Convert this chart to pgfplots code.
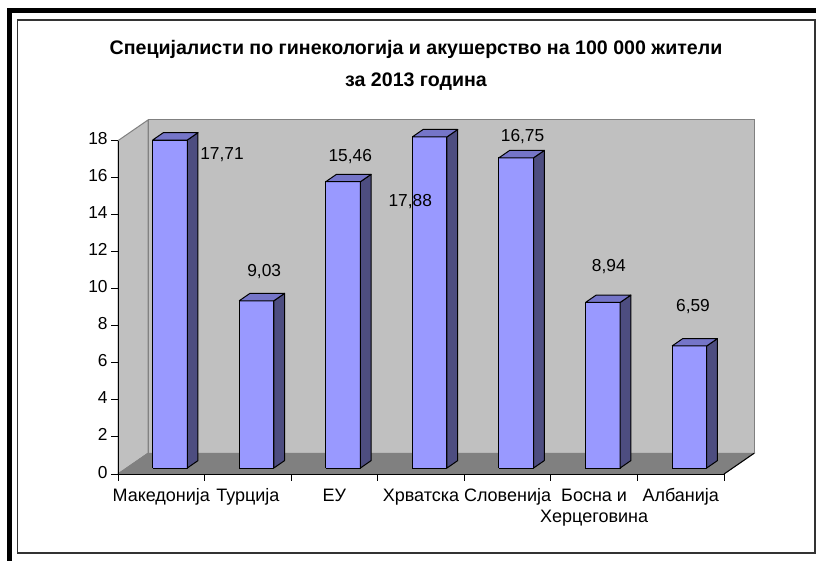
\documentclass[border=0pt]{standalone}
\usepackage{fontspec}
\setmainfont{Liberation Sans}
\usepackage{pgfplots}
\usepackage{pgfplotstable}
\pgfplotsset{compat=1.18}

\definecolor{wallc}{RGB}{192,192,192}
\definecolor{floorc}{RGB}{128,128,128}
\definecolor{edgec}{RGB}{128,128,128}
\definecolor{cfront}{RGB}{153,153,255}
\definecolor{ctop}{RGB}{117,117,200}
\definecolor{cside}{RGB}{77,77,128}

% idx, value, label position (axis units)
\pgfplotstableread{
idx value lx ly
0 17.71 0.701 17.27
1 9.03 1.189 10.95
2 15.46 2.183 17.12
3 17.88 2.876 14.73
4 16.75 4.173 18.24
5 8.94 5.169 11.18
6 6.59 6.142 9.06
}\datatable

\pgfplotsset{
  barfront/.style={fill=cfront, draw=black, line width=0.75pt, line join=round, mark=none},
  barside/.style={fill=cside, draw=black, line width=0.75pt, line join=round, mark=none},
  bartop/.style={fill=ctop, draw=black, line width=0.75pt, line join=round, mark=none},
}

\begin{document}
\begin{tikzpicture}[x=0.75pt,y=0.75pt]
\useasboundingbox (0,0) rectangle (816,560);
\clip (0,0) rectangle (816,560);
\fill[white] (0,0) rectangle (816,560);
\draw[black, line width=3.75pt] (9.5,549) rectangle (840,-30);
\draw[black!80, line width=1pt] (17.5,540) rectangle (815,7);

\node[font=\bfseries\fontsize{14.7}{17}\selectfont, anchor=base, inner sep=0pt] at (416,505) {Специјалисти по гинекологија и акушерство на 100 000 жители};
\node[font=\bfseries\fontsize{14.7}{17}\selectfont, anchor=base, inner sep=0pt] at (416,473.5) {за 2013 година};

\begin{axis}[
  at={(88.5pt,64.5pt)}, anchor=south west,
  scale only axis, width=454.5pt, height=250pt,
  xmin=-0.5, xmax=6.5, ymin=0, ymax=18,
  clip=false, axis on top,
  axis lines*=left,
  axis line style={black, line width=0.75pt},
  every tick/.style={black, line width=0.75pt},
  tick align=outside,
  major tick length=0pt,
  minor tick length=5pt,
  ytick={0,2,...,18},
  minor ytick={0,2,...,18},
  xtick={0,1,...,6},
  minor xtick={-0.5,0.5,...,6.5},
  xticklabels={Македонија,Турција,ЕУ,Хрватска,Словенија,{Босна и\\Херцеговина},Албанија},
  typeset ticklabels with strut,
  xticklabel style={font=\fontsize{13.5}{16}\selectfont, align=center, anchor=north, yshift=-5.8pt},
  yticklabel style={font=\fontsize{13}{15}\selectfont, anchor=east, xshift=-4.3pt},
  /pgf/number format/assume math mode=true,
]
% back wall
\addplot[fill=wallc, draw=edgec, line width=0.75pt] coordinates {(-0.1534,1.118) (6.8466,1.118) (6.8466,19.118) (-0.1534,19.118) (-0.1534,1.118)};
% left wall
\addplot[fill=wallc, draw=edgec, line width=0.75pt] coordinates {(-0.5,0) (-0.1534,1.118) (-0.1534,19.118) (-0.5,18) (-0.5,0)};
% floor
\addplot[fill=floorc, draw=edgec, line width=0.75pt] coordinates {(-0.5,0) (6.5,0) (6.8466,1.118) (-0.1534,1.118) (-0.5,0)};
\addplot[draw=black, line width=0.75pt] coordinates {(6.5,0) (6.8466,1.118)};

% bars
\pgfplotsinvokeforeach{0,...,6}{
  \pgfplotstablegetelem{#1}{value}\of\datatable
  \edef\v{\pgfplotsretval}
  \pgfmathsetmacro\xl{#1-0.2+0.1}
  \pgfmathsetmacro\xr{#1+0.2+0.1}
  \pgfmathsetmacro\xlb{\xl+0.124}
  \pgfmathsetmacro\xrb{\xr+0.124}
  \pgfmathsetmacro\yb{0.323}
  \pgfmathsetmacro\yt{\v+0.323}
  \pgfmathsetmacro\ybb{0.723}
  \pgfmathsetmacro\ytb{\v+0.723}
  \edef\temp{%
    \noexpand\addplot[barfront] coordinates {(\xl,\yb) (\xr,\yb) (\xr,\yt) (\xl,\yt) (\xl,\yb)};
    \noexpand\addplot[barside] coordinates {(\xr,\yb) (\xrb,\ybb) (\xrb,\ytb) (\xr,\yt) (\xr,\yb)};
    \noexpand\addplot[bartop] coordinates {(\xl,\yt) (\xr,\yt) (\xrb,\ytb) (\xlb,\ytb) (\xl,\yt)};
  }%
  \temp
}

% value labels
\addplot[only marks, mark=*, mark size=0pt, mark options={draw=none, fill=none},
  point meta=explicit,
  nodes near coords={\pgfmathprintnumber[fixed,fixed zerofill,precision=2,use comma]{\pgfplotspointmeta}},
  nodes near coords align={center},
  every node near coord/.append style={font=\fontsize{13}{15}\selectfont, anchor=center, inner sep=0pt, text=black},
] table[x=lx, y=ly, meta=value] {\datatable};
\end{axis}
\end{tikzpicture}
\end{document}
